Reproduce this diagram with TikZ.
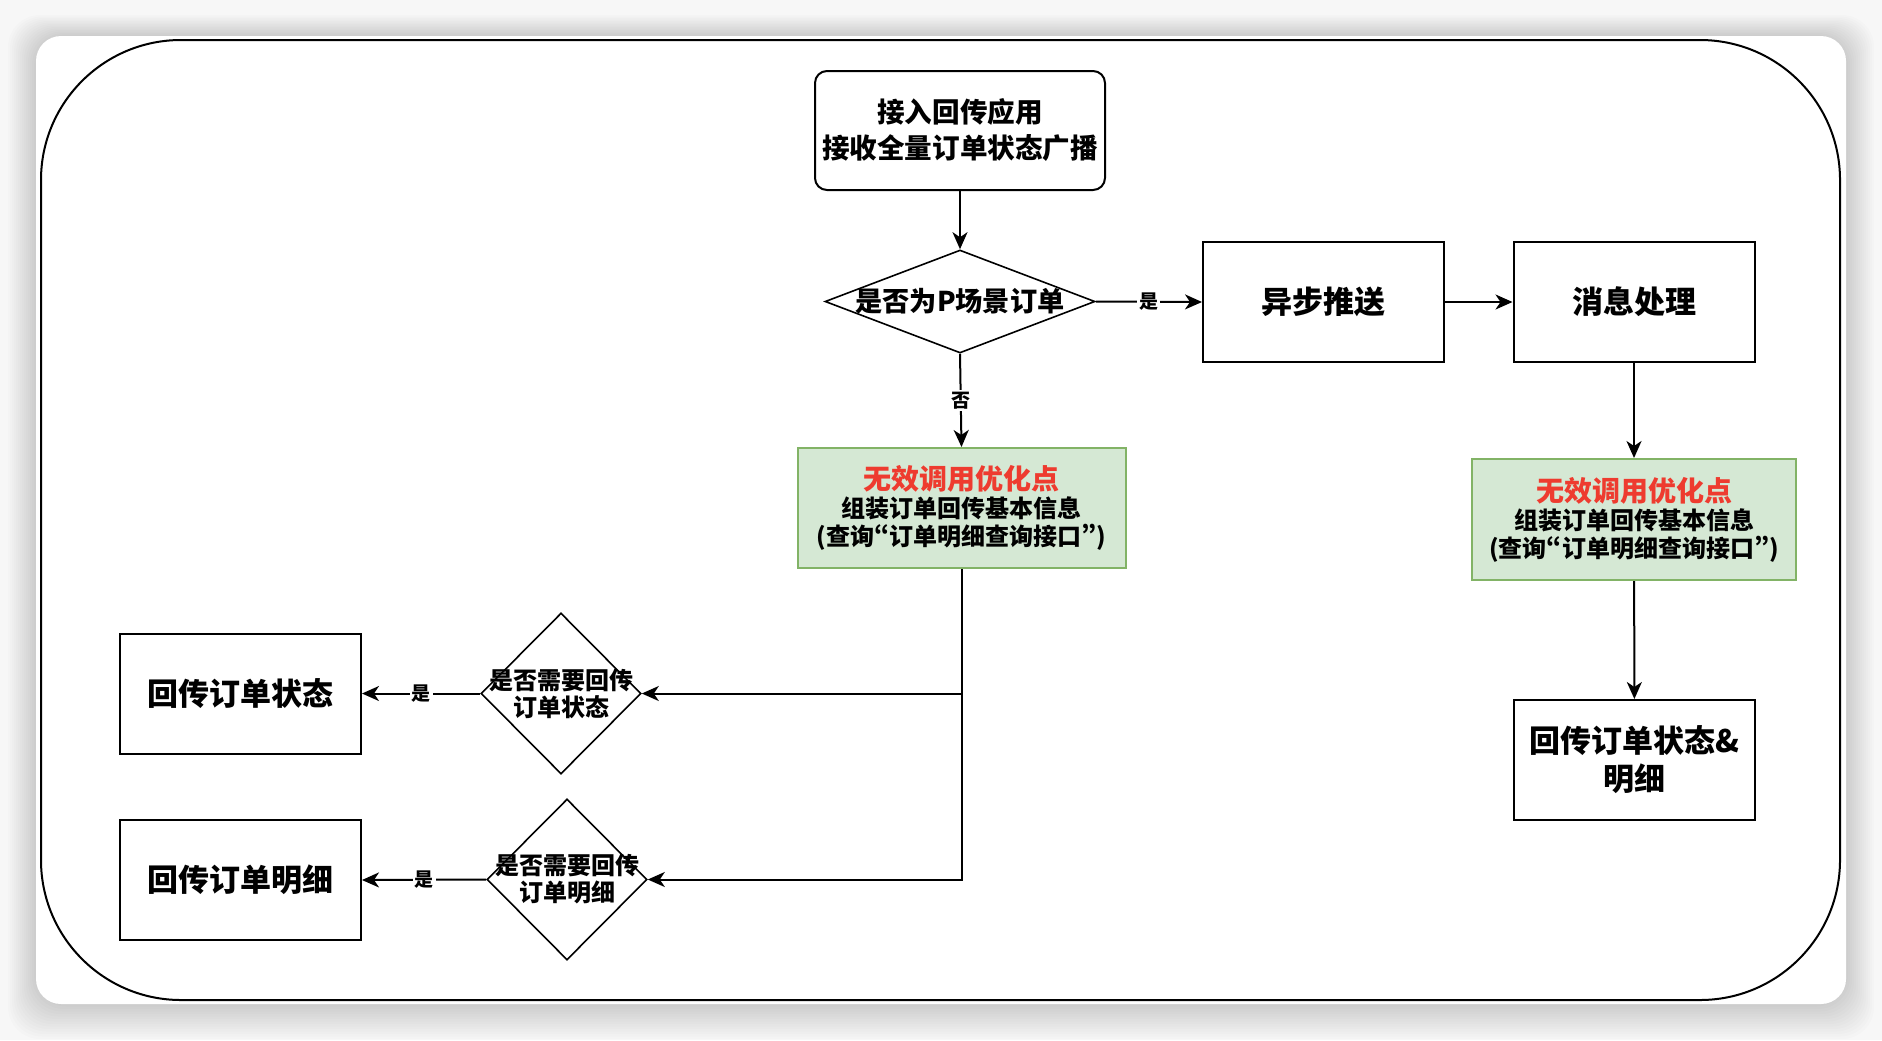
\documentclass[tikz,border=0pt]{standalone}
\usepackage{fontspec}
\setmainfont{Noto Sans CJK SC}
\usepackage{tikz}
\usetikzlibrary{shapes.geometric,arrows.meta}

\definecolor{okgreen}{HTML}{D5E8D4}
\definecolor{okline}{HTML}{82B366}
\definecolor{hotred}{HTML}{EE3B2F}
\definecolor{pagebg}{HTML}{F7F7F7}

\newcommand{\pq}[1]{{\addfontfeature{CharacterWidth=Proportional}#1}}

\tikzset{
  box/.style={draw, line width=1pt, minimum width=120.5pt, minimum height=60pt, align=center, font=\bfseries\fontsize{15.5}{19}\selectfont},
  greenbox/.style={draw=okline, fill=okgreen, line width=1pt, minimum width=164pt, minimum height=60pt, align=center, font=\bfseries\fontsize{12}{14}\selectfont},
  decide/.style={diamond, draw, line width=0.8pt, inner sep=0pt},
  dtext/.style={align=center, font=\bfseries\fontsize{12}{13.5}\selectfont},
  line/.style={line width=1pt, -{Stealth[length=8.5pt,width=7.5pt,inset=2.5pt]}},
  yes/.style={fill=white, inner sep=1pt, font=\bfseries\fontsize{9.5}{11}\selectfont},
}

\begin{document}
\begin{tikzpicture}[x=0.5pt,y=-0.5pt]
\fill[pagebg] (0,0) rectangle (1882,1040);
\foreach \i in {1,...,14}
  \fill[black,opacity=0.011,rounded corners=16pt] (36-2*\i,36-1.5*\i) rectangle (1846+2*\i,1004+2.5*\i); % shadow
\fill[white,rounded corners=12.5pt] (36,36) rectangle (1846,1004);
\draw[line width=1pt,rounded corners=70pt] (41,40) rectangle (1840,1000); % frame

\node[box, rounded corners=6pt, minimum width=145pt, minimum height=59.5pt, font=\bfseries\fontsize{13.8}{18}\selectfont] (start) at (960,130.5) {接入回传应用\\接收全量订单状态广播};
\node[decide, minimum width=135pt, minimum height=51.5pt] (isp) at (960,301.5) {};
\node[font=\bfseries\fontsize{13.6}{16}\selectfont] at (isp) {是否为P场景订单};

\node[box] (async) at (1323.5,302) {异步推送};
\node[box] (msg) at (1634,302) {消息处理};

\node[greenbox] (build) at (961.5,508) {{\color{hotred}\fontsize{14}{15}\selectfont 无效调用优化点}\\组装订单回传基本信息\\(查询\pq{“}订单明细查询接口\pq{”})};
\node[greenbox, minimum width=162pt, minimum height=60.5pt] (build2) at (1634,519.5) {{\color{hotred}\fontsize{14}{15}\selectfont 无效调用优化点}\\组装订单回传基本信息\\(查询\pq{“}订单明细查询接口\pq{”})};
\node[box] (both) at (1634.5,760) {回传订单状态\&\\明细};

\node[decide, minimum width=80pt, minimum height=80.5pt] (needst) at (561,693.5) {};
\node[dtext] at (needst) {是否需要回传\\订单状态};
\node[decide, minimum width=80pt, minimum height=80.5pt] (needdt) at (567,879.5) {};
\node[dtext] at (needdt) {是否需要回传\\订单明细};

\node[box] (state) at (240.5,693.5) {回传订单状态};
\node[box] (detail) at (240.5,880) {回传订单明细};

\draw[line] (start) -- (isp);
\draw[line] (isp.east) -- node[yes] {是} (async.west);
\draw[line] (async) -- (msg);
\draw[line] (isp.south) -- node[yes] {否} (build.north);
\draw[line] (msg) -- (build2);
\draw[line] (build2) -- (both);
\draw[line] (build.south) |- (needst.east);
\draw[line] (build.south) |- (needdt.east);
\draw[line] (needst.west) -- node[yes] {是} (state.east);
\draw[line] (needdt.west) -- node[yes] {是} (detail.east);

\end{tikzpicture}
\end{document}
